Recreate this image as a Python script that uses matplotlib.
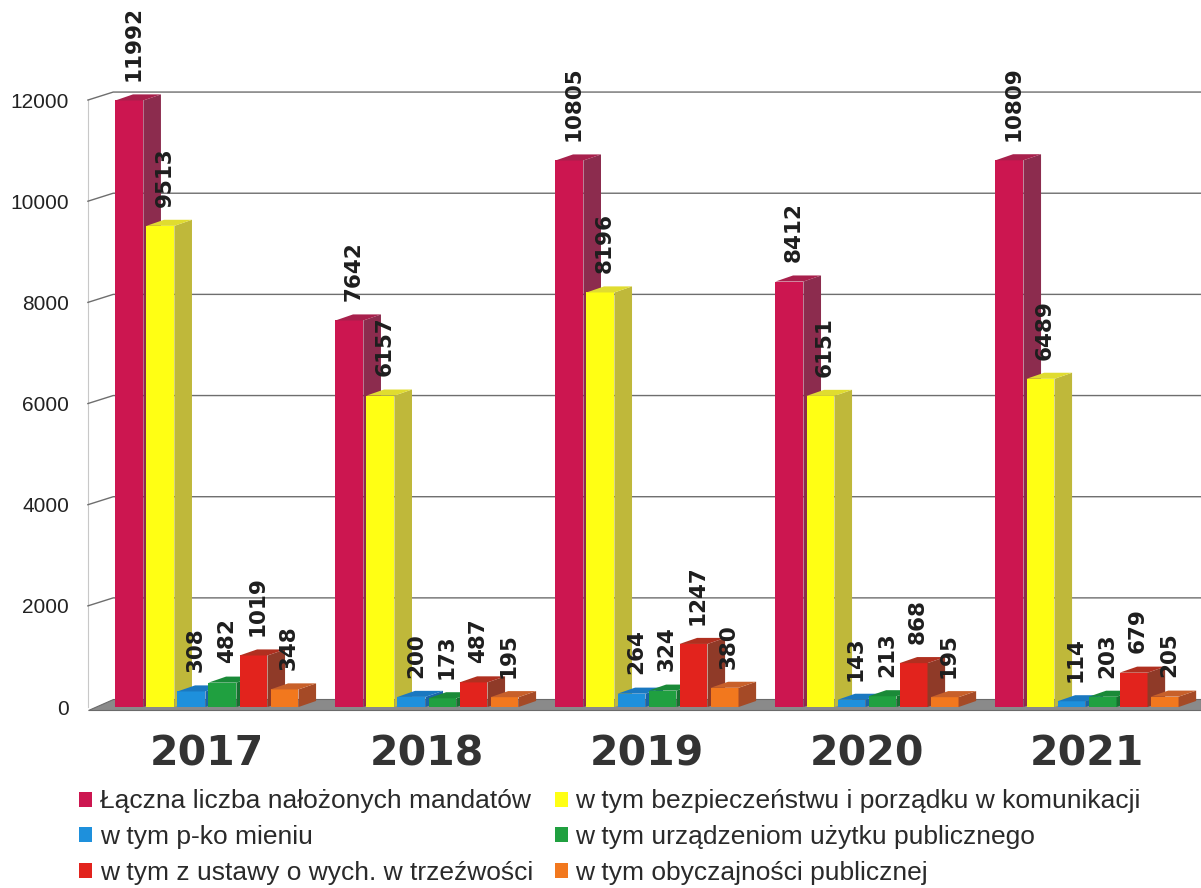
import numpy as np
import matplotlib
matplotlib.use("Agg")
import matplotlib.pyplot as plt
from matplotlib.patches import Polygon, Patch

years = ["2017", "2018", "2019", "2020", "2021"]
series_names = [
    "Łączna liczba nałożonych mandatów",
    "w tym bezpieczeństwu i porządku w komunikacji",
    "w tym p-ko mieniu",
    "w tym urządzeniom użytku publicznego",
    "w tym z ustawy o wych. w trzeźwości",
    "w tym obyczajności publicznej",
]
total = [11992, 7642, 10805, 8412, 10809]
traffic = [9513, 6157, 8196, 6151, 6489]
property_ = [308, 200, 264, 143, 114]
public_equipment = [482, 173, 324, 213, 203]
sobriety = [1019, 487, 1247, 868, 679]
decency = [348, 195, 380, 195, 205]
yticks = [0, 2000, 4000, 6000, 8000, 10000, 12000]

series = [total, traffic, property_, public_equipment, sobriety, decency]
front_colors = ["#cc1650", "#ffff14", "#1e90dc", "#20a040", "#e2231d", "#f2781e"]
side_colors = ["#8c2c4e", "#bfb83a", "#1a64a8", "#177030", "#8f3a28", "#a54a26"]
top_colors = ["#a8204c", "#e0dc30", "#1a78c0", "#1a8a38", "#b03020", "#c8602a"]

fig = plt.figure(figsize=(12.01, 8.88), dpi=100)
ax = fig.add_axes([0.0666, 0.1867, 0.9334, 0.8133])
ax.set_xlim(-0.577, 4.518)
ax.set_ylim(-300, 13978)
for s in ax.spines.values():
    s.set_visible(False)

step = 0.141
width = 0.127
dx, dy = 0.08, 120         # bar depth
wdx, wdy = 0.115, 158      # wall depth
x_wall = -0.541
x_end = 4.518

# floor
ax.add_patch(Polygon([(x_wall, -60), (x_end, -60), (x_end, wdy), (x_wall + wdx, wdy)],
                     closed=True, facecolor="#8a8a8a", edgecolor="#6a6a6a", lw=0.8, zorder=1))
# left wall edge and back grid
ax.plot([x_wall, x_wall], [0, 12000], color="#c8c8c8", lw=0.8, zorder=0)
for v in yticks[1:]:
    ax.plot([x_wall, x_wall + wdx, x_end], [v, v + wdy, v + wdy], color="#6e6e6e", lw=1.0, zorder=0)

for i in range(len(years)):
    for j, vals in enumerate(series):
        v = vals[i]
        left = i - 3 * step + j * step + (step - width) / 2
        ax.bar(left, v, width=width, align="edge", color=front_colors[j], edgecolor="none", zorder=3 + j)
        ax.add_patch(Polygon([(left + width, 0), (left + width + dx, dy), (left + width + dx, v + dy), (left + width, v)],
                             closed=True, facecolor=side_colors[j], edgecolor="none", zorder=3 + j))
        ax.add_patch(Polygon([(left, v), (left + dx, v + dy), (left + width + dx, v + dy), (left + width, v)],
                             closed=True, facecolor=top_colors[j], edgecolor="none", zorder=3 + j))
        ax.text(left + width / 2 + 0.02, v + dy + 260, str(v), rotation=90, ha="center", va="bottom",
                fontsize=15.5, fontweight="bold", color="#1e1e1e", zorder=20)

ax.set_yticks(yticks)
ax.set_yticklabels([str(t) for t in yticks], fontsize=15, color="#222222", family="Liberation Sans")
ax.set_xticks(range(len(years)))
ax.set_xticklabels(years, fontsize=29.5, fontweight="bold", color="#333333")
ax.tick_params(axis="both", length=0)
ax.tick_params(axis="y", pad=8)
ax.tick_params(axis="x", pad=9)

# legend in row order: col 1 = series 0, 2, 4; col 2 = series 1, 3, 5
order = [0, 2, 4, 1, 3, 5]
handles = [Patch(facecolor=front_colors[k], edgecolor="none") for k in order]
labels = [series_names[k] for k in order]
leg = fig.legend(handles, labels, loc="upper left", bbox_to_anchor=(0.066, 0.111),
                 bbox_transform=fig.transFigure, ncol=2, frameon=False,
                 prop={"family": "Liberation Sans", "size": 19},
                 handlelength=0.5, handleheight=0.5, handletextpad=0.27,
                 columnspacing=0.83, labelspacing=0.45, borderaxespad=0, borderpad=0)
for t in leg.get_texts():
    t.set_color("#2a2a2a")

fig.savefig("out.png", dpi=100)
